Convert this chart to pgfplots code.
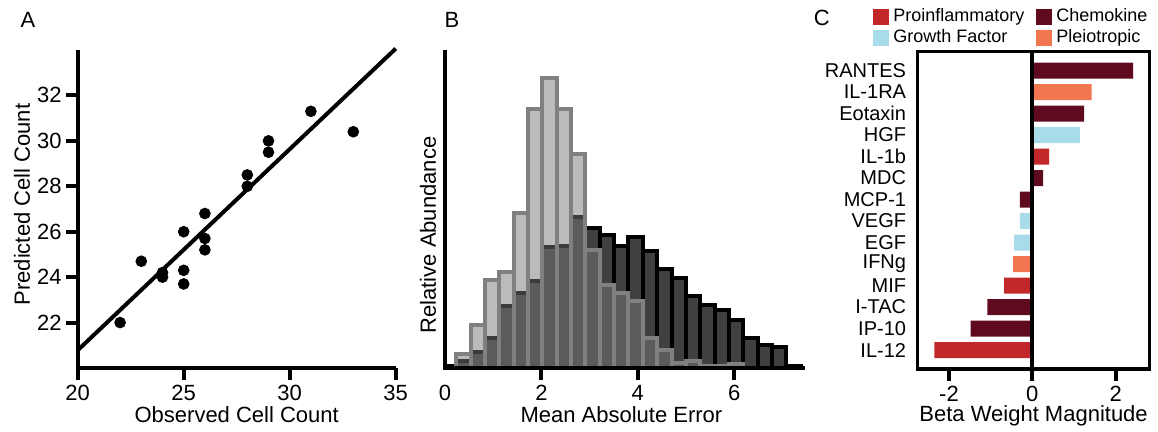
\documentclass[border=0pt]{standalone}
\usepackage{pgfplots}
\pgfplotsset{compat=1.18}
\usepackage{fontspec}
\setmainfont{Liberation Sans}
\definecolor{cRed}{HTML}{C2282A}
\definecolor{cMar}{HTML}{5F0A1E}
\definecolor{cBlue}{HTML}{A8DCEA}
\definecolor{cSal}{HTML}{F2764F}
\definecolor{dk}{HTML}{404040}
\definecolor{edgeg}{HTML}{808080}
\definecolor{lt}{HTML}{777777}
\newcommand{\fA}{\fontsize{11}{13}\selectfont}
\pgfplotsset{
 panel/.style={scale only axis, anchor=south west,
  axis lines*=left,
  axis line style={line width=2pt},
  tick align=inside, major tick length=0pt, tick style={draw=none},
  xticklabel style={font=\fA, inner sep=0pt},
  yticklabel style={font=\fA, inner sep=0pt},
  xticklabel shift=8.5pt, yticklabel shift=7.85pt,
  /pgf/number format/assume math mode=true},
}
\begin{document}
\begin{tikzpicture}
% ---------- Panel A ----------
\begin{axis}[panel, at={(38.85pt,32pt)}, width=159pt, height=159pt,
 xmin=20, xmax=35, ymin=20, ymax=34,
 xtick={20,25,30,35}, ytick={22,24,...,32}, clip=false,
 xlabel={Observed Cell Count}, ylabel={Predicted Cell Count},
 xlabel style={font=\fA, inner sep=0pt, at={(axis description cs:0.5,-0.172)}, anchor=base},
 ylabel style={font=\fA, at={(axis description cs:-0.175,0.514)}, anchor=center}]
\addplot[black, line width=2pt, no marks] coordinates {(20,20.78) (35,34.06)};
\addplot[only marks, mark=*, mark size=2.7pt, black] coordinates {
(22,22.0) (23,24.7) (24,24.2) (24,24.0) (25,26.0) (25,24.3) (25,23.7)
(26,26.8) (26,25.7) (26,25.2) (28,28.5) (28,28.0) (29,30.0) (29,29.5)
(31,31.3) (33,30.4)};
\end{axis}
% ---------- Panel B ----------
\begin{axis}[panel, axis on top, at={(222.5pt,32pt)}, width=180pt, height=159pt,
 xmin=0, xmax=7.47, ymin=0, ymax=317, clip=false,
 xtick={0,2,4,6}, ytick=\empty,
 xlabel={Mean Absolute Error}, ylabel={Relative Abundance},
 xlabel style={font=\fA, inner sep=0pt, at={(axis description cs:0.49,-0.172)}, anchor=base},
 ylabel style={font=\fA, at={(axis description cs:-0.047,0.418)}, anchor=center}]
\addplot[ybar interval, fill=dk, draw=black, line width=2pt] coordinates {
(0.000,2) (0.2375,7) (0.535,16) (0.8325,30) (1.130,62) (1.4275,75)
(1.725,87) (2.0225,121) (2.320,122) (2.6175,151) (2.915,140) (3.2125,133)
(3.510,122) (3.8075,131) (4.105,117) (4.4025,99) (4.700,90) (4.9975,72)
(5.295,63) (5.5925,58) (5.890,48) (6.1875,30) (6.485,23) (6.7825,21)
(7.080,2) (7.3775,2)};
\addplot[ybar interval, fill=lt, fill opacity=0.5, draw=edgeg, line width=2pt] coordinates {
(0.2375,14) (0.535,43) (0.8325,88) (1.130,96) (1.4275,155)
(1.725,258) (2.0225,289) (2.320,258) (2.6175,213) (2.915,118) (3.2125,83)
(3.510,75) (3.8075,67) (4.105,30) (4.4025,18) (4.700,5) (4.9975,7)
(5.295,2) (5.5925,2) (5.890,4) (6.1875,4)};
\end{axis}
% ---------- Panel C ----------
\begin{axis}[scale only axis, anchor=south west, at={(458.85pt,31.5pt)},
 width=115.9pt, height=158.65pt, axis on top, clip=false,
 xmin=-2.75, xmax=2.81, ymin=-0.88, ymax=13.88,
 axis line style={line width=1.7pt},
 tick align=inside, major tick length=0pt, tick style={draw=none},
 xtick={-2,0,2}, xticklabels={-2,0,2}, xtick pos=bottom,
 ytick={0,...,13}, ytick pos=left,
 yticklabels={IL-12,IP-10,I-TAC,MIF,IFNg,EGF,VEGF,MCP-1,MDC,IL-1b,HGF,Eotaxin,IL-1RA,RANTES},
 yticklabel style={font=\fontsize{10}{12}\selectfont, xshift=-2.3pt},
 xticklabel style={font=\fA, inner sep=0pt}, xticklabel shift=8.5pt,
 xlabel={Beta Weight Magnitude},
 xlabel style={font=\fA, inner sep=0pt, at={(axis description cs:0.5,-0.167)}, anchor=base},
 legend columns=2,
 legend style={at={(axis description cs:-0.193,1.150)}, anchor=north west, draw=none,
   fill=none, inner sep=0pt, row sep=-1.5pt, font=\fontsize{9}{10}\selectfont,
   /tikz/every even column/.append style={column sep=4pt}},
 legend cell align=left]
\addplot[xbar, bar width=0.74, bar shift=0pt, draw=none, fill=cRed,
 legend image code/.code={\fill[cRed] (0pt,-4pt) rectangle (8pt,4pt);}]
 coordinates {(-2.35,0) (-0.68,3) (0.40,9)};
\addlegendentry{Proinflammatory}
\addplot[xbar, bar width=0.74, bar shift=0pt, draw=none, fill=cMar,
 legend image code/.code={\fill[cMar] (0pt,-4pt) rectangle (8pt,4pt);}]
 coordinates {(-1.48,1) (-1.08,2) (-0.30,7) (0.26,8) (1.24,11) (2.42,13)};
\addlegendentry{Chemokine}
\addplot[xbar, bar width=0.74, bar shift=0pt, draw=none, fill=cBlue,
 legend image code/.code={\fill[cBlue] (0pt,-4pt) rectangle (8pt,4pt);}]
 coordinates {(-0.44,5) (-0.30,6) (1.14,10)};
\addlegendentry{Growth Factor}
\addplot[xbar, bar width=0.74, bar shift=0pt, draw=none, fill=cSal,
 legend image code/.code={\fill[cSal] (0pt,-4pt) rectangle (8pt,4pt);}]
 coordinates {(-0.46,4) (1.42,12)};
\addlegendentry{Pleiotropic}
\addplot[black, line width=2pt, no marks, sharp plot, forget plot] coordinates {(0,-0.88) (0,13.88)};
\end{axis}
% ---------- tick marks (axis decoration) ----------
\begin{scope}[line width=2pt, black]
\foreach \xx in {38.85,91.85,144.85,197.85} {\draw (\xx pt,32pt) -- (\xx pt,26pt);}
\foreach \yy in {54.71,77.43,100.14,122.86,145.57,168.29} {\draw (38.85pt,\yy pt) -- (32.85pt,\yy pt);}
\foreach \xx in {270.69,318.88,367.07} {\draw (\xx pt,32pt) -- (\xx pt,26pt);}
\foreach \xx in {474.48,516.18,557.87} {\draw (\xx pt,31.5pt) -- (\xx pt,25.5pt);}
\end{scope}
\node[font=\fA] at (14pt,206pt) {A};
\node[font=\fA] at (226pt,206pt) {B};
\node[font=\fA] at (410.85pt,206.85pt) {C};
\pgfresetboundingbox
\path[use as bounding box] (0,0) rectangle (579pt,216pt);
\end{tikzpicture}
\end{document}
